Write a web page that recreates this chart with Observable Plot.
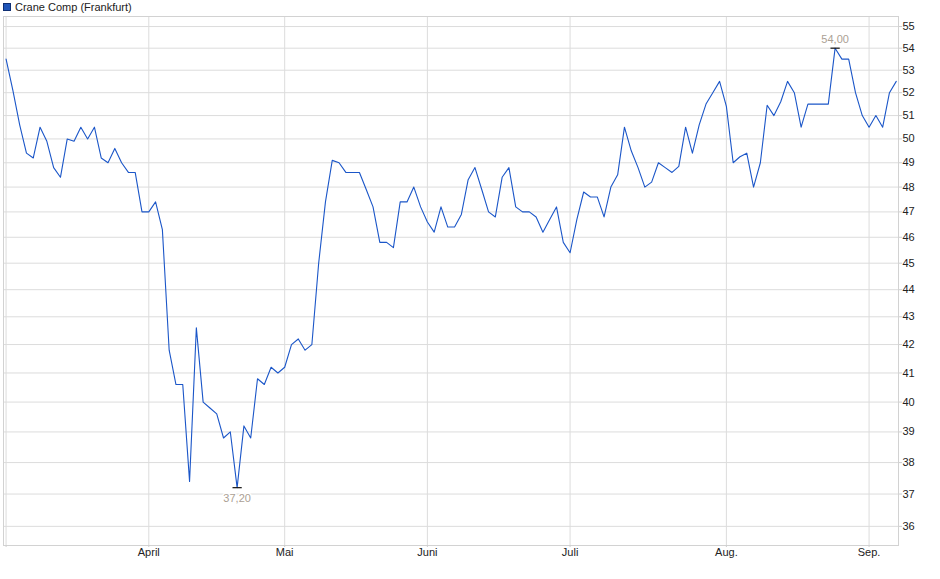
<!DOCTYPE html>
<html>
<head>
<meta charset="utf-8">
<script src="https://cdn.jsdelivr.net/npm/d3@7"></script>
<script src="https://cdn.jsdelivr.net/npm/@observablehq/plot@0.6"></script>
<style>
  body { margin: 0; background: #fff; font-family: "Liberation Sans", Arial, sans-serif; }
  #wrap { position: relative; width: 940px; height: 579px; }
  #legend { position: absolute; left: 3px; top: 0px; height: 14px; font-size: 11px; color: #222;
            display: flex; align-items: center; white-space: nowrap; }
  #legend .sw { display: inline-block; width: 6px; height: 6px; background: #1f55b8;
                border: 1px solid #0f2f73; margin-right: 4px; }
</style>
</head>
<body>
<div id="wrap">
  <div id="chart"></div>
  <div id="legend"><span class="sw"></span><span id="legend-text"></span></div>
</div>
<script>
// Series: daily closing prices (trading-day sequence, 3 Mar - 5 Sep)
const seriesName = "Crane Comp (Frankfurt)";
const prices = [
  53.5, 52.1, 50.6, 49.4, 49.2, 50.5, 49.9, 48.8, 48.4, 50.0,
  49.9, 50.5, 50.0, 50.5, 49.2, 49.0, 49.6, 49.0, 48.6, 48.6,
  47.0, 47.0, 47.4, 46.3, 41.8, 40.6, 40.6, 37.4, 42.6, 40.0,
  39.8, 39.6, 38.8, 39.0, 37.2, 39.2, 38.8, 40.8, 40.6, 41.2,
  41.0, 41.2, 42.0, 42.2, 41.8, 42.0, 45.0, 47.4, 49.1, 49.0,
  48.6, 48.6, 48.6, 47.9, 47.2, 45.8, 45.8, 45.6, 47.4, 47.4,
  48.0, 47.2, 46.6, 46.2, 47.2, 46.4, 46.4, 46.9, 48.3, 48.8,
  47.9, 47.0, 46.8, 48.4, 48.8, 47.2, 47.0, 47.0, 46.8, 46.2,
  46.7, 47.2, 45.8, 45.4, 46.7, 47.8, 47.6, 47.6, 46.8, 48.0,
  48.5, 50.5, 49.5, 48.8, 48.0, 48.2, 49.0, 48.8, 48.6, 48.85,
  50.5, 49.4, 50.6, 51.5, 52.0, 52.5, 51.4, 49.0, 49.25, 49.4,
  48.0, 49.0, 51.45, 51.0, 51.6, 52.5, 52.0, 50.5, 51.5, 51.5,
  51.5, 51.5, 54.0, 53.5, 53.5, 52.0, 51.0, 50.5, 51.0, 50.5,
  52.0, 52.5
];
// Month gridlines: trading-day index of the first session of each month
const monthStartIndex = [0, 21, 41, 62, 83, 106, 127];
const monthLabels     = ["", "April", "Mai", "Juni", "Juli", "Aug.", "Sep."];
const yTicks = [36, 37, 38, 39, 40, 41, 42, 43, 44, 45, 46, 47, 48, 49, 50, 51, 52, 53, 54, 55];

document.getElementById("legend-text").textContent = seriesName;

const data = prices.map((p, i) => ({i, p}));
const minI = d3.minIndex(prices);
const maxI = d3.maxIndex(prices);
const fmt = v => d3.format(".2f")(v).replace(".", ",");
const gridColor = "#dcdcdc";

const chart = Plot.plot({
  width: 940,
  height: 579,
  marginTop: 16,
  marginBottom: 34,
  marginLeft: 3,
  marginRight: 42,
  style: {fontFamily: '"Liberation Sans", Arial, sans-serif', fontSize: "11px", background: "#fff", color: "#222"},
  x: {type: "linear", domain: [-0.38, 131.33]},
  y: {type: "log", domain: [35.42, 55.47]},
  marks: [
    Plot.gridY(yTicks, {stroke: gridColor, strokeOpacity: 1}),
    Plot.gridX(monthStartIndex, {stroke: gridColor, strokeOpacity: 1}),
    Plot.frame({stroke: "#d2d2d2"}),
    Plot.axisY({anchor: "right", ticks: yTicks, tickFormat: d => String(d), tickSize: 3, tickPadding: 1,
                stroke: "#cfcfcf", fill: "#222", label: null}),
    Plot.axisX({anchor: "bottom", ticks: monthStartIndex,
                tickFormat: d => monthLabels[monthStartIndex.indexOf(d)],
                tickSize: 2, tickPadding: 1, stroke: "#cfcfcf", fill: "#222", label: null}),
    Plot.line(data, {x: "i", y: "p", stroke: "#1b56c8", strokeWidth: 1.1}),
    Plot.link([data[minI], data[maxI]], {x1: d => d.i - 0.68, x2: d => d.i + 0.68, y1: "p", y2: "p",
                stroke: "#111", strokeWidth: 1.2}),
    Plot.text([data[maxI]], {x: "i", y: "p", text: d => fmt(d.p), dy: -9,
                fill: "#ab9f94", stroke: "white", strokeWidth: 3, fontSize: 11}),
    Plot.text([data[minI]], {x: "i", y: "p", text: d => fmt(d.p), dy: 11,
                fill: "#ab9f94", stroke: "white", strokeWidth: 3, fontSize: 11})
  ]
});
document.getElementById("chart").appendChild(chart);
</script>
</body>
</html>
